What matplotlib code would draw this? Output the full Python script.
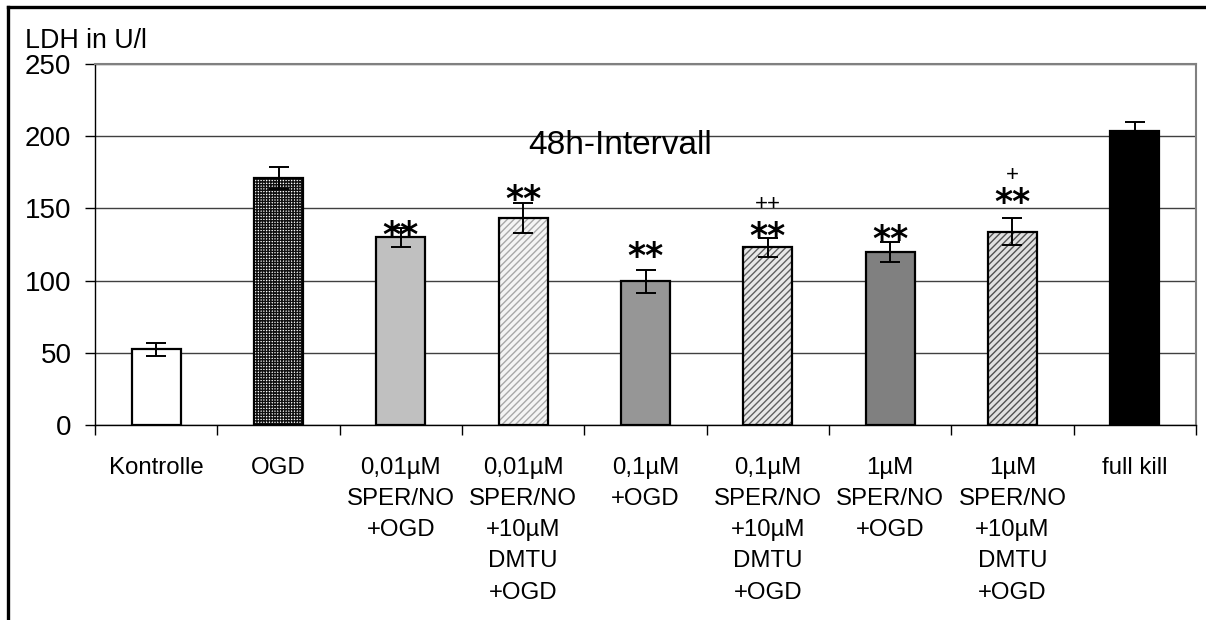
import matplotlib
matplotlib.use("Agg")
import matplotlib.pyplot as plt
from matplotlib.lines import Line2D
import numpy as np

categories = ["Kontrolle", "OGD", "0,01µM\nSPER/NO\n+OGD", "0,01µM\nSPER/NO\n+10µM\nDMTU\n+OGD",
              "0,1µM\n+OGD", "0,1µM\nSPER/NO\n+10µM\nDMTU\n+OGD", "1µM\nSPER/NO\n+OGD",
              "1µM\nSPER/NO\n+10µM\nDMTU\n+OGD", "full kill"]
values = [52.5, 171, 130, 143.5, 99.5, 123, 120, 134, 203.5]
errors = [4.5, 7.5, 6.5, 10.5, 8, 6.5, 7, 9.5, 6.5]
stars = ["", "", "**", "**", "**", "**", "**", "**", ""]
star_y = [0, 0, 131, 156, 116, 130, 128, 154, 0]
plus = ["", "", "", "", "", "++", "", "+", ""]
plus_y = [0, 0, 0, 0, 0, 153, 0, 173, 0]
yticks = [0, 50, 100, 150, 200, 250]

plt.rcParams['font.family'] = ['Liberation Sans', 'DejaVu Sans']
plt.rcParams['hatch.linewidth'] = 1.0

fig = plt.figure(figsize=(12.06, 6.2), dpi=100)
ax = fig.add_axes([95/1206, 1-425/620, 1101/1206, 361/620])

x = np.arange(len(categories))
w = 0.4
styles = [
    dict(color="white", hatch=None, hc=None),
    dict(color="white", hatch="++++++", hc="#101010"),
    dict(color="#c0c0c0", hatch=None, hc=None),
    dict(color="#f4f4f4", hatch="/////", hc="#a8a8a8"),
    dict(color="#969696", hatch=None, hc=None),
    dict(color="#e8e8e8", hatch="/////", hc="#606060"),
    dict(color="#808080", hatch=None, hc=None),
    dict(color="#e0e0e0", hatch="/////", hc="#505050"),
    dict(color="black", hatch=None, hc=None),
]
for i in range(len(categories)):
    s = styles[i]
    if s["hatch"]:
        ax.bar(x[i], values[i], width=w, color=s["color"], hatch=s["hatch"],
               edgecolor=s["hc"], linewidth=0, zorder=3)
    else:
        ax.bar(x[i], values[i], width=w, color=s["color"], linewidth=0, zorder=3)
    ax.bar(x[i], values[i], width=w, fill=False, edgecolor="black", linewidth=1.6, zorder=4)

ax.errorbar(x, values, yerr=errors, fmt="none", ecolor="black", elinewidth=1.4,
            capsize=7, capthick=1.4, zorder=5)

for i in range(len(categories)):
    if stars[i]:
        ax.text(x[i], star_y[i], stars[i], ha="center", va="center", fontsize=25,
                fontweight="bold", zorder=6, family="DejaVu Sans")
    if plus[i]:
        ax.text(x[i], plus_y[i], plus[i], ha="center", va="center", fontsize=16, zorder=6)

ax.set_xlim(-0.5, len(categories) - 0.5)
ax.set_ylim(0, 250)
ax.set_yticks(yticks)
ax.set_yticklabels([str(v) for v in yticks], fontsize=20)
ax.yaxis.grid(True, color="#404040", linewidth=1.0, zorder=0)
ax.set_axisbelow(True)

ax.set_xticks(x)
ax.set_xticklabels(categories, fontsize=17.3, va="top")
for t in ax.get_xticklabels():
    t.set_linespacing(1.54)
ax.set_xticks(np.arange(-0.5, len(categories)), minor=True)
ax.tick_params(axis="x", which="major", length=0, pad=23)
ax.tick_params(axis="x", which="minor", length=7, width=1.0, direction="out")
ax.tick_params(axis="y", length=7, width=1.0, direction="out", pad=10)

for side in ["top", "right"]:
    ax.spines[side].set_color("#808080")
    ax.spines[side].set_linewidth(1.5)
for side in ["left", "bottom"]:
    ax.spines[side].set_color("black")
    ax.spines[side].set_linewidth(1.0)

ax.text(0.477, 0.773, "48h-Intervall", transform=ax.transAxes, ha="center", va="center",
        fontsize=24)
fig.text(25/1206, 1-48/620, "LDH in U/l", ha="left", va="baseline", fontsize=19.3)

# outer frame
fig.add_artist(Line2D([8/1206, 1], [1-7/620, 1-7/620], transform=fig.transFigure,
                      color="black", linewidth=2.4))
fig.add_artist(Line2D([8/1206, 8/1206], [0, 1-7/620], transform=fig.transFigure,
                      color="black", linewidth=2.4))

fig.savefig("out.png", dpi=100)
